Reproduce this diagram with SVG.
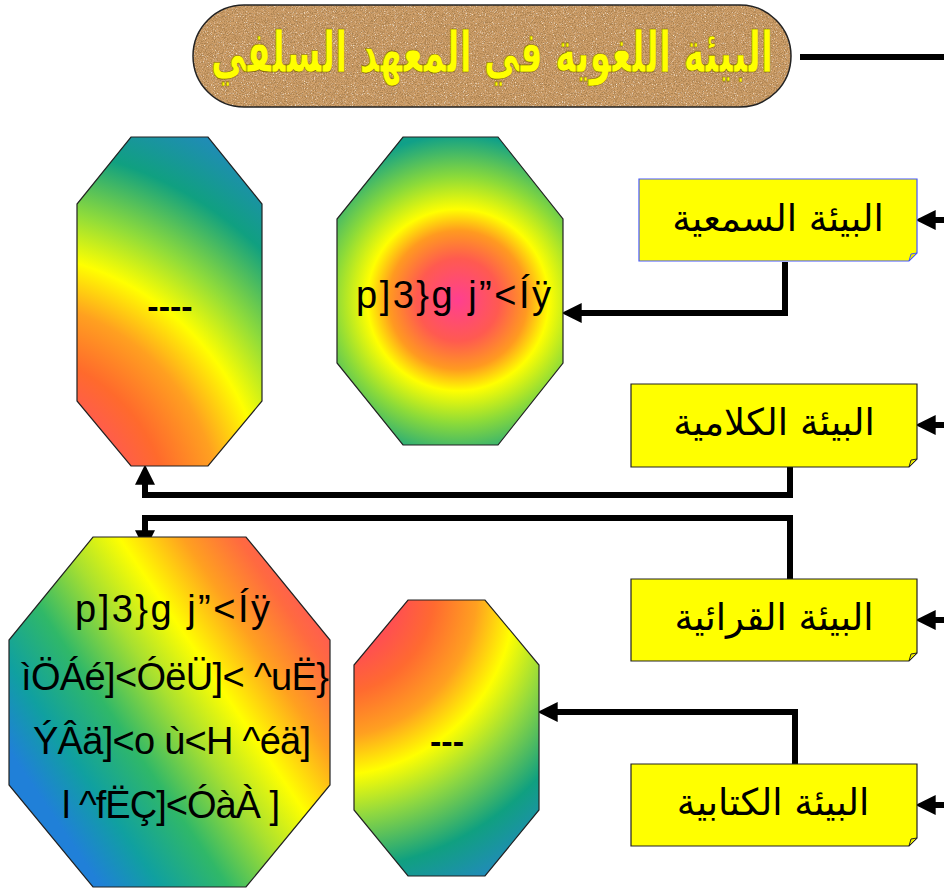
<svg xmlns="http://www.w3.org/2000/svg" width="944" height="888" viewBox="0 0 944 888">
<style>
.oct{stroke:#222;stroke-width:1.2}
.box{fill:#ffff00;stroke:#222;stroke-width:1.2}
.fold{fill:#e8e800;stroke:#222;stroke-width:1}
.ar{font-family:"DejaVu Sans",sans-serif;font-size:37px;fill:#000;text-anchor:middle}
.gl{font-family:"Liberation Sans",Arial,sans-serif;font-size:38px;fill:#000}
.dash{font-family:"Liberation Sans",Arial,sans-serif;font-size:34px;font-weight:bold;fill:#000;text-anchor:middle}
.con{fill:none;stroke:#000;stroke-width:6}
</style>
<defs>
<marker id="ah" markerUnits="userSpaceOnUse" markerWidth="20" markerHeight="20" refX="6" refY="9" orient="auto" viewBox="0 0 18 18">
<path d="M0,0 L18,9 L0,18 z" fill="#000"/>
</marker>
<radialGradient id="g1" gradientUnits="userSpaceOnUse" cx="0" cy="520" r="470">
<stop offset="0.18" stop-color="#ff4a78"/>
<stop offset="0.36" stop-color="#ff6a2c"/>
<stop offset="0.47" stop-color="#ffa020"/>
<stop offset="0.57" stop-color="#ffff00"/>
<stop offset="0.67" stop-color="#90dc3a"/>
<stop offset="0.8" stop-color="#10a080"/>
<stop offset="1" stop-color="#2a7fd8"/>
</radialGradient>
<radialGradient id="g2" gradientUnits="userSpaceOnUse" cx="458" cy="300" r="165">
<stop offset="0" stop-color="#ff3f90"/>
<stop offset="0.25" stop-color="#ff5a50"/>
<stop offset="0.42" stop-color="#ff9a20"/>
<stop offset="0.55" stop-color="#ffff00"/>
<stop offset="0.75" stop-color="#8ada3a"/>
<stop offset="1" stop-color="#10a088"/>
</radialGradient>
<linearGradient id="g3" gradientUnits="userSpaceOnUse" x1="15" y1="760" x2="306" y2="563">
<stop offset="0" stop-color="#2080d8"/>
<stop offset="0.14" stop-color="#10a0a0"/>
<stop offset="0.3" stop-color="#30b868"/>
<stop offset="0.46" stop-color="#a8e030"/>
<stop offset="0.6" stop-color="#ffff00"/>
<stop offset="0.75" stop-color="#ffa020"/>
<stop offset="0.88" stop-color="#ff6a40"/>
<stop offset="1" stop-color="#ff5060"/>
</linearGradient>
<radialGradient id="g4" gradientUnits="userSpaceOnUse" cx="330" cy="590" r="350">
<stop offset="0" stop-color="#ff3f80"/>
<stop offset="0.2" stop-color="#ff5050"/>
<stop offset="0.3" stop-color="#ff6a30"/>
<stop offset="0.42" stop-color="#ffa020"/>
<stop offset="0.53" stop-color="#ffff00"/>
<stop offset="0.65" stop-color="#90d840"/>
<stop offset="0.8" stop-color="#10a080"/>
<stop offset="1" stop-color="#2a80d8"/>
</radialGradient>
<filter id="cork" x="0" y="0" width="100%" height="100%">
<feTurbulence type="fractalNoise" baseFrequency="0.9" numOctaves="3" seed="7" result="n"/>
<feColorMatrix in="n" type="matrix" values="0 0 0 0 0.4 0 0 0 0 0.22 0 0 0 0 0.08 3.2 0 0 0 -1.25" result="d"/>
<feColorMatrix in="n" type="matrix" values="0 0 0 0 0.97 0 0 0 0 0.88 0 0 0 0 0.72 0 -3.2 0 0 1.2" result="l"/>
<feMerge result="m"><feMergeNode in="SourceGraphic"/><feMergeNode in="d"/><feMergeNode in="l"/></feMerge>
<feComposite in="m" in2="SourceGraphic" operator="in"/>
</filter>
</defs>

<g id="title">
<rect x="193" y="5" width="598" height="102" rx="51" fill="#d0a06a" filter="url(#cork)"/>
<rect x="193" y="5" width="598" height="102" rx="51" fill="none" stroke="#222" stroke-width="1.5"/>
<text transform="translate(492,72) scale(0.8,1.3)" x="0" y="0" font-family="'DejaVu Sans',sans-serif" font-size="44" font-weight="bold" fill="#ffff00" stroke="#7a5a10" stroke-width="0.5" text-anchor="middle">البيئة اللغوية في المعهد السلفي</text>
</g>

<g id="connectors">
<path class="con" d="M800,57 H944"/>
<path class="con" d="M785,262 V313 H575" marker-end="url(#ah)"/>
<path class="con" d="M790,467 V495 H145 V478" marker-end="url(#ah)"/>
<path class="con" d="M790,579 V518 H145 V537" marker-end="url(#ah)"/>
<path class="con" d="M795,764 V712 H551" marker-end="url(#ah)"/>
<path class="con" stroke-width="5" d="M944,220 H929" marker-end="url(#ah)"/>
<path class="con" stroke-width="5" d="M944,425 H929" marker-end="url(#ah)"/>
<path class="con" stroke-width="5" d="M944,620 H929" marker-end="url(#ah)"/>
<path class="con" stroke-width="5" d="M944,805 H929" marker-end="url(#ah)"/>
</g>

<g id="octagon1">
<polygon class="oct" fill="url(#g1)" points="131,137 208,137 262,204 262,401 208,466 131,466 77,401 77,204"/>
<text class="dash" x="170" y="318">----</text>
</g>

<g id="octagon2">
<polygon class="oct" fill="url(#g2)" points="403,137 498,137 563,219 563,363 498,445 403,445 337,363 337,219"/>
<text class="gl" x="356" y="308" textLength="195">p]3}g j”&lt;Íÿ</text>
</g>

<g id="octagon3">
<polygon class="oct" fill="url(#g3)" points="93,537 246,537 330,640 330,785 246,887 93,887 9,785 9,640"/>
<text class="gl" x="75" y="622" textLength="195">p]3}g j”&lt;Íÿ</text>
<text class="gl" x="21" y="690" textLength="308">ìÖÁé]&lt;ÓëÜ]&lt; ^uË}</text>
<text class="gl" x="33" y="754" textLength="278">ÝÂä]&lt;o ù&lt;H ^éä]</text>
<text class="gl" x="62" y="818" textLength="218">l ^fËÇ]&lt;ÓàÀ ]</text>
</g>

<g id="octagon4">
<polygon class="oct" fill="url(#g4)" points="408,600 485,600 539,665 539,810 485,876 408,876 354,810 354,665"/>
<text class="dash" x="447" y="753">---</text>
</g>

<g id="box1">
<path class="box" style="stroke:#4455ff" d="M639,179 H917 V253 L909,261 H639 Z"/>
<path class="fold" style="stroke:#4455ff" d="M917,253 L909,261 L911,254 Z"/>
<text class="ar" x="778" y="231">البيئة السمعية</text>
</g>

<g id="box2">
<path class="box" d="M631,384 H917 V459 L909,467 H631 Z"/>
<path class="fold" d="M917,459 L909,467 L911,460 Z"/>
<text class="ar" x="774" y="435">البيئة الكلامية</text>
</g>

<g id="box3">
<path class="box" d="M631,579 H917 V653 L909,661 H631 Z"/>
<path class="fold" d="M917,653 L909,661 L911,654 Z"/>
<text class="ar" x="774" y="630">البيئة القرائية</text>
</g>

<g id="box4">
<path class="box" d="M631,764 H917 V838 L909,846 H631 Z"/>
<path class="fold" d="M917,838 L909,846 L911,839 Z"/>
<text class="ar" x="773" y="815">البيئة الكتابية</text>
</g>
</svg>
